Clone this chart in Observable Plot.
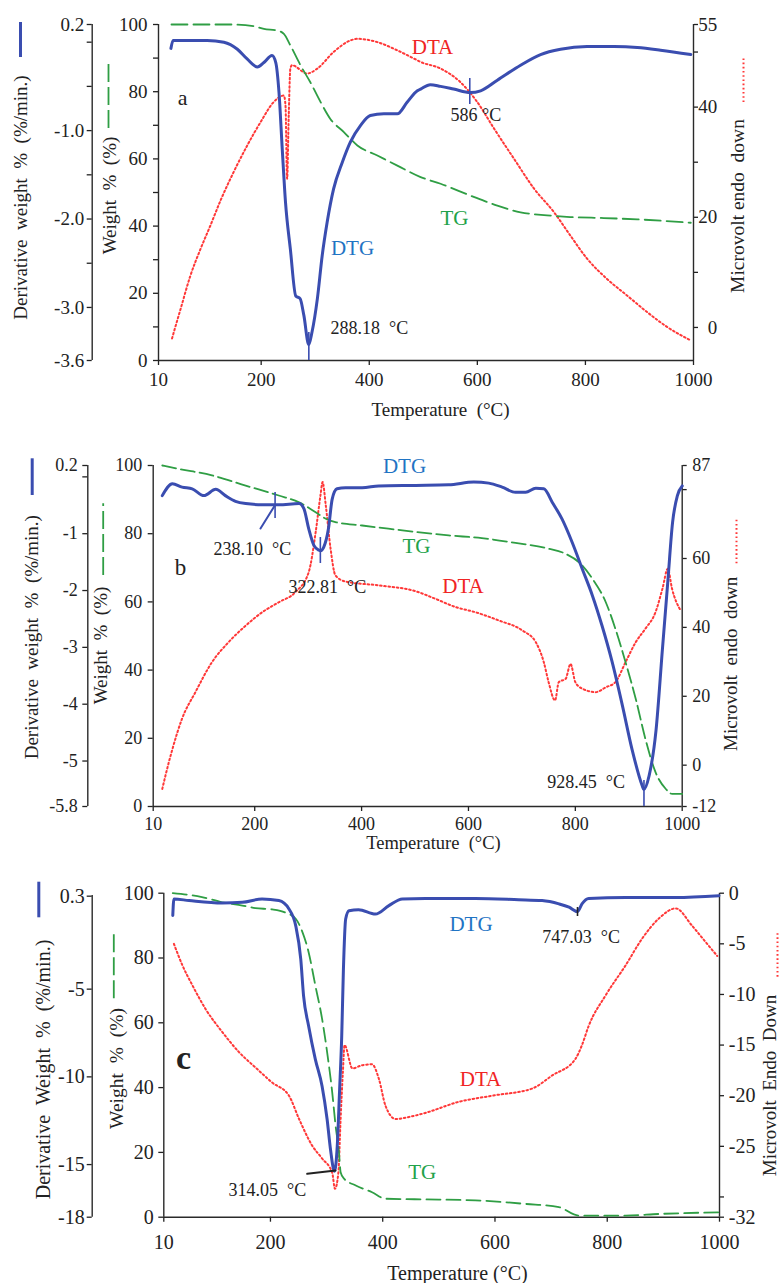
<!DOCTYPE html>
<html>
<head>
<meta charset="utf-8">
<script src="https://cdn.jsdelivr.net/npm/d3@7"></script>
<script src="https://cdn.jsdelivr.net/npm/@observablehq/plot@0.6"></script>
<style>
  html, body { margin: 0; padding: 0; background: #fff; }
  #chart { width: 781px; }
  #chart svg { display: block; }
</style>
</head>
<body>
<div id="chart"></div>
<script>
// ---------- shared ticks ----------
const xTicks = [10, 200, 400, 600, 800, 1000];
const weightTicksA = [0, 10, 20, 30, 40, 50, 60, 70, 80, 90, 100];
const weightTicks = [0, 20, 40, 60, 80, 100];

const dtgTicksA = [0.2, 0, -0.5, -1, -1.5, -2, -2.5, -3, -3.6];
const dtgLabelsA = ["0.2", "", "", "-1.0", "", "-2.0", "", "-3.0", "-3.6"];
const dtaTicksA = [55, 50, 40, 30, 20, 10, 0];
const dtaLabelsA = ["55", "", "40", "", "20", "", "0"];

const dtgTicksB = [0.2, 0, -1, -2, -3, -4, -5, -5.8];
const dtgLabelsB = ["0.2", "", "-1", "-2", "-3", "-4", "-5", "-5.8"];
const dtaTicksB = [87, 80, 60, 40, 20, 0, -12];
const dtaLabelsB = ["87", "", "60", "40", "20", "0", "-12"];

const dtgTicksC = [0.3, -5, -10, -15, -18];
const dtgLabelsC = ["0.3", "-5", "-10", "-15", "-18"];
const dtaTicksC = [0, -5, -10, -15, -20, -25, -30, -32];
const dtaLabelsC = ["0", "-5", "-10", "-15", "-20", "-25", "", "-32"];

// ---------- panel a ----------
const aDtgT = [33, 37, 57, 100, 131, 156, 174, 193, 205, 220, 227, 233, 239, 245, 254, 264, 272, 279, 288, 294, 304, 313, 322, 334, 350, 365, 384, 402, 427, 452, 470, 489, 495, 513, 532, 556, 587, 606, 637, 680, 717, 754, 803, 853, 896, 939, 995];
const aDtgV = [-0.07, 0.02, 0.02, 0.02, 0.0, -0.08, -0.19, -0.28, -0.23, -0.15, -0.23, -0.57, -1.21, -1.81, -2.34, -2.87, -2.90, -3.09, -3.42, -3.28, -2.90, -2.41, -2.04, -1.66, -1.36, -1.13, -0.94, -0.83, -0.81, -0.81, -0.68, -0.55, -0.53, -0.48, -0.50, -0.53, -0.57, -0.55, -0.43, -0.26, -0.14, -0.08, -0.05, -0.05, -0.06, -0.09, -0.14];
const aTgT = [34, 146, 186, 205, 230, 242, 254, 273, 291, 310, 328, 353, 378, 415, 452, 495, 532, 587, 637, 680, 729, 772, 834, 896, 995];
const aTgV = [100, 100, 99.5, 98.7, 98.2, 97.2, 93.8, 87.8, 82.8, 76.9, 71.9, 68.0, 64.0, 61.0, 58.0, 54.6, 52.6, 49.1, 46.1, 44.1, 43.2, 42.7, 42.4, 42.0, 41.0];
const aDtaT = [35, 51, 69, 88, 106, 125, 149, 174, 199, 223, 242, 245, 248, 251, 254, 257, 285, 304, 334, 365, 378, 415, 452, 483, 495, 532, 569, 600, 631, 668, 705, 742, 772, 803, 840, 877, 914, 951, 995];
const aDtaV = [-2.0, 3.4, 9.4, 14.3, 18.5, 23.1, 28.2, 33.0, 37.3, 40.9, 42.1, 40.3, 27.0, 38.5, 47.0, 47.6, 46.1, 47.0, 50.0, 52.1, 52.4, 51.8, 50.3, 48.8, 48.2, 47.0, 44.5, 40.9, 36.1, 30.6, 25.2, 20.9, 16.7, 12.5, 8.8, 5.8, 2.8, 0.1, -2.35];

// ---------- panel b ----------
const bDtgT = [27, 46, 64, 83, 105, 127, 145, 164, 183, 214, 245, 283, 292, 301, 311, 320, 323, 329, 338, 345, 354, 370, 401, 432, 501, 563, 610, 638, 663, 688, 707, 726, 741, 757, 775, 794, 813, 832, 850, 869, 888, 906, 925, 928, 938, 951, 963, 973, 982, 991, 1000];
const bDtgV = [-0.33, -0.12, -0.18, -0.21, -0.33, -0.22, -0.33, -0.43, -0.47, -0.49, -0.49, -0.47, -0.56, -0.91, -1.21, -1.29, -1.30, -1.24, -0.91, -0.39, -0.21, -0.19, -0.19, -0.16, -0.15, -0.14, -0.09, -0.11, -0.18, -0.27, -0.27, -0.20, -0.21, -0.45, -0.74, -1.15, -1.62, -2.09, -2.62, -3.26, -4.02, -4.79, -5.43, -5.50, -5.26, -4.46, -3.03, -1.85, -0.80, -0.33, -0.16];
const bTgT = [27, 58, 120, 183, 245, 283, 314, 333, 351, 401, 464, 501, 563, 625, 688, 750, 782, 807, 832, 857, 875, 894, 913, 931, 950, 969, 981, 1000];
const bTgV = [100, 99.0, 97.1, 94.1, 91.2, 89.2, 86.3, 84.4, 83.4, 82.4, 81.2, 80.5, 79.5, 78.7, 77.3, 75.6, 74.1, 71.6, 66.8, 59.9, 52.1, 42.3, 31.6, 19.9, 10.1, 5.2, 3.7, 3.7];
const bDtaT = [27, 33, 46, 64, 89, 120, 151, 183, 214, 245, 276, 301, 314, 323, 327, 333, 342, 351, 370, 432, 501, 538, 576, 613, 657, 701, 726, 741, 750, 762, 769, 782, 791, 800, 813, 838, 857, 875, 894, 913, 931, 950, 963, 973, 981, 997];
const bDtaV = [-6.9, -3.0, 4.7, 13.5, 21.2, 29.9, 35.7, 40.5, 44.4, 47.3, 50.2, 56.0, 67.6, 78.3, 82.2, 75.4, 62.8, 55.1, 53.3, 52.2, 50.5, 48.3, 45.9, 44.4, 42.0, 39.1, 35.7, 29.9, 24.1, 18.8, 24.1, 25.1, 29.4, 24.1, 22.2, 21.2, 22.6, 24.1, 29.9, 35.7, 39.6, 44.4, 51.2, 57.0, 51.2, 44.9];

// ---------- panel c ----------
const cDtgT = [26, 28, 55, 114, 150, 185, 215, 233, 245, 254, 259, 268, 280, 292, 301, 307, 314, 319, 323, 327, 330, 334, 340, 357, 387, 411, 435, 476, 565, 642, 684, 714, 732, 747, 755, 767, 833, 922, 999];
const cDtgV = [-0.8, 0.14, 0.05, -0.09, -0.05, 0.14, 0.05, -0.43, -1.38, -3.29, -5.38, -7.1, -9.0, -10.53, -12.43, -14.14, -15.38, -13.95, -10.9, -7.65, -3.86, -1.0, -0.53, -0.47, -0.72, -0.24, 0.14, 0.17, 0.17, 0.1, 0.05, -0.14, -0.33, -0.58, -0.14, 0.17, 0.23, 0.23, 0.33];
const cTgT = [26, 78, 114, 150, 173, 203, 227, 245, 257, 268, 280, 292, 301, 310, 316, 322, 325, 331, 352, 381, 405, 476, 565, 654, 714, 749, 833, 892, 999];
const cTgV = [100, 98.8, 97.2, 96.2, 95.4, 95.0, 94.0, 92.1, 88.0, 81.8, 71.5, 61.2, 50.9, 38.6, 28.3, 20.1, 13.9, 11.9, 9.8, 7.7, 5.7, 5.5, 5.2, 4.1, 3.1, 0.5, 0.5, 1.0, 1.5];
const cDtaT = [28, 43, 61, 84, 114, 144, 173, 203, 233, 251, 274, 292, 310, 315, 321, 325, 329, 332, 346, 363, 381, 393, 405, 423, 447, 476, 536, 595, 666, 702, 743, 755, 767, 797, 833, 862, 892, 922, 951, 975, 996];
const cDtaV = [-5.0, -7.1, -9.1, -11.4, -13.7, -15.7, -17.2, -18.7, -20.0, -22.3, -24.9, -26.2, -27.6, -29.2, -27.6, -22.3, -17.7, -15.0, -17.3, -17.0, -16.9, -18.3, -21.0, -22.3, -22.1, -21.7, -20.6, -20.0, -19.3, -18.0, -16.4, -15.0, -13.1, -10.1, -7.1, -4.5, -2.5, -1.5, -3.2, -4.8, -6.2];

// ---------- styling ----------
const FONT = "'Liberation Serif','Times New Roman',Times,serif";
const AX = "#2a2a2a";
const BLUE = "#3a4db0", GREEN = "#2f9e44", RED = "#ff3838";
const BLUE_T = "#1f74c4", GREEN_T = "#22a24a", RED_T = "#f02424";
const NBSP = "\u00a0";
const DOTS = "1.6,2.6";

function makePanel(c) {
  const H = c.bottom - c.top;
  const W = py => (c.bottom - py) / H * 100;
  const T = px => 10 + (px - c.left) / (c.right - c.left) * 990;
  const toW = (v, dom) => (v - dom[0]) / (dom[1] - dom[0]) * 100;
  const rows = (ts, vs, dom) => ts.map((t, i) => ({t, w: dom ? toW(vs[i], dom) : vs[i]}));
  const lookup = (vals, labels, dom) => {
    const m = new Map(vals.map((v, i) => [toW(v, dom).toFixed(3), labels[i]]));
    return d => m.get((+d).toFixed(3)) ?? "";
  };
  const at = (s, x, y, o = {}) => Plot.text([s], {
    frameAnchor: "top-left", dx: x - c.left, dy: y - c.top,
    textAnchor: "middle", lineAnchor: "middle", fontSize: 21, fill: "#222", ...o
  });
  const swStyle = {
    blue: {stroke: BLUE, strokeWidth: 3},
    green: {stroke: GREEN, strokeWidth: 1.8, strokeDasharray: "18,5"},
    red: {stroke: RED, strokeWidth: 2, strokeDasharray: DOTS}
  };
  const outerDx = c.outerX - c.left;

  const marks = [
    // axis lines
    Plot.ruleX([10], {stroke: AX, strokeWidth: 1.4}),
    Plot.ruleX([1000], {stroke: AX, strokeWidth: 1.4}),
    Plot.ruleY([0], {stroke: AX, strokeWidth: 1.4}),
    Plot.ruleX([10], {y1: 0, y2: W(c.outerTopPx), dx: outerDx, stroke: AX, strokeWidth: 1.4}),
    // x axis
    Plot.axisX(xTicks, {anchor: "bottom", tickSize: 5, tickPadding: c.xPad, tickFormat: d => String(d),
      label: null, fontSize: c.tick, color: "#222", strokeWidth: 1.3}),
    // inner weight axis
    Plot.axisY(c.inner, {anchor: "left", tickSize: 5, tickPadding: c.innerPad,
      tickFormat: d => (d % 20 === 0 ? String(d) : ""), label: null, fontSize: c.tick, color: "#222", strokeWidth: 1.3}),
    // outer derivative axis
    Plot.axisY(c.dtgTicks.map(v => toW(v, c.dtgDom)), {anchor: "left", dx: outerDx, tickSize: 5,
      tickPadding: c.outerPad, tickFormat: lookup(c.dtgTicks, c.dtgLabels, c.dtgDom),
      label: null, fontSize: c.tick, color: "#222", strokeWidth: 1.3}),
    // right microvolt axis
    Plot.axisY(c.dtaTicks.map(v => toW(v, c.dtaDom)), {anchor: "right", tickSize: 4,
      tickFormat: () => "", label: null, color: "#222", strokeWidth: 1.3}),
    Plot.text(c.dtaTicks.map((v, i) => ({w: toW(v, c.dtaDom), s: c.dtaLabels[i]})), {
      x: 1000, y: "w", text: "s", dx: c.rLabelX - c.right, textAnchor: c.rAnchor,
      lineAnchor: "middle", fontSize: c.tick, fill: "#222"}),
    // series
    Plot.line(rows(c.dta[0], c.dta[1], c.dtaDom), {x: "t", y: "w", stroke: RED, strokeWidth: 2,
      strokeDasharray: DOTS, curve: "monotone-x"}),
    Plot.line(rows(c.tg[0], c.tg[1]), {x: "t", y: "w", stroke: GREEN, strokeWidth: 1.8,
      strokeDasharray: c.tgDash, curve: "monotone-x"}),
    Plot.line(rows(c.dtg[0], c.dtg[1], c.dtgDom), {x: "t", y: "w", stroke: BLUE, strokeWidth: 3,
      strokeLinejoin: "round", curve: "monotone-x"})
  ];

  for (const [t, p1, p2, col] of c.rules)
    marks.push(Plot.ruleX([t], {y1: W(p2), y2: W(p1), stroke: col, strokeWidth: 1.6}));
  for (const [x1, y1, x2, y2, col] of c.segs)
    marks.push(Plot.line([{t: T(x1), w: W(y1)}, {t: T(x2), w: W(y2)}], {x: "t", y: "w", stroke: col, strokeWidth: 2}));
  for (const [x, y1, y2, kind] of c.swatches)
    marks.push(Plot.ruleX([10], {y1: W(y2), y2: W(y1), dx: x - c.left, ...swStyle[kind]}));
  for (const [s, x, y, size] of c.titles)
    marks.push(at(s, x, y, {rotate: -90, fontSize: size}));
  for (const [s, x, y, o] of c.notes)
    marks.push(at(s, x, y, o));

  return Plot.plot({
    width: 781, height: c.height,
    marginTop: c.top - c.offset, marginBottom: c.offset + c.height - c.bottom,
    marginLeft: c.left, marginRight: 781 - c.right,
    x: {domain: [10, 1000], axis: null},
    y: {domain: [0, 100], axis: null},
    style: {fontFamily: FONT, fontSize: "18px", color: "#222", background: "#fff"},
    marks
  });
}

const panels = [
  {
    offset: 0, height: 425, top: 24, bottom: 360, left: 158, right: 693,
    tick: 19, xPad: 6.5, inner: weightTicksA, innerPad: 6,
    outerX: 91.7, outerTopPx: 24, dtgDom: [-3.6, 0.2], dtgTicks: dtgTicksA, dtgLabels: dtgLabelsA, outerPad: 3,
    dtaDom: [-6, 55], dtaTicks: dtaTicksA, dtaLabels: dtaLabelsA, rLabelX: 716.7, rAnchor: "end",
    dtg: [aDtgT, aDtgV], tg: [aTgT, aTgV], dta: [aDtaT, aDtaV], tgDash: "16,6",
    rules: [[586, 78, 104, BLUE], [288.18, 332, 360, BLUE]],
    segs: [],
    swatches: [[20, 22, 57, "blue"], [108, 60, 128, "green"], [743, 58, 102, "red"]],
    titles: [
      ["Derivative" + NBSP + " weight" + NBSP + " %" + NBSP + " (%/min.)", 20, 197, 19],
      ["Weight" + NBSP + " %" + NBSP + " (%)", 109, 195, 19],
      ["Microvolt endo" + NBSP + " down", 737.5, 205.5, 19.5]
    ],
    notes: [
      ["Temperature" + NBSP + " (°C)", 440, 409, {fontSize: 19}],
      ["a", 182, 97, {fontSize: 22}],
      ["DTA", 432, 47, {fill: RED_T}],
      ["TG", 454, 218, {fill: GREEN_T}],
      ["DTG", 352, 248, {fill: BLUE_T}],
      ["288.18" + NBSP + " °C", 330, 328, {textAnchor: "start", fontSize: 18}],
      ["586 °C", 450, 115, {textAnchor: "start", fontSize: 18}]
    ]
  },
  {
    offset: 425, height: 433, top: 465, bottom: 806, left: 152.7, right: 681.7,
    tick: 18, xPad: 6, inner: weightTicks, innerPad: 6,
    outerX: 87.3, outerTopPx: 465, dtgDom: [-5.8, 0.2], dtgTicks: dtgTicksB, dtgLabels: dtgLabelsB, outerPad: 5,
    dtaDom: [-12, 87], dtaTicks: dtaTicksB, dtaLabels: dtaLabelsB, rLabelX: 691.7, rAnchor: "start",
    dtg: [bDtgT, bDtgV], tg: [bTgT, bTgV], dta: [bDtaT, bDtaV], tgDash: "14,5",
    rules: [[238.1, 492, 518, BLUE], [322.81, 537, 563, BLUE], [928.45, 780, 806, BLUE]],
    segs: [[260, 528, 274.3, 505, BLUE]],
    swatches: [[31.7, 458.3, 495, "blue"], [102.7, 503.3, 575, "green"], [736, 518.3, 563.3, "red"]],
    titles: [
      ["Derivative" + NBSP + " weight" + NBSP + " %" + NBSP + " (%/min.)", 31.7, 636.7, 19],
      ["Weight" + NBSP + " %" + NBSP + " (%)", 100, 645, 19],
      ["Microvolt" + NBSP + " endo" + NBSP + " down", 730.8, 663.3, 19]
    ],
    notes: [
      ["Temperature" + NBSP + " (°C)", 433, 843, {fontSize: 18.5}],
      ["b", 180, 567, {fontSize: 23}],
      ["DTG", 404, 466, {fill: BLUE_T}],
      ["TG", 416, 546, {fill: GREEN_T}],
      ["DTA", 462.5, 585.5, {fill: RED_T}],
      ["238.10" + NBSP + " °C", 213, 548.5, {textAnchor: "start", fontSize: 18}],
      ["322.81" + NBSP + " °C", 288, 587, {textAnchor: "start", fontSize: 18}],
      ["928.45" + NBSP + " °C", 546.7, 782, {textAnchor: "start", fontSize: 18}]
    ]
  },
  {
    offset: 858, height: 425, top: 892.7, bottom: 1216.7, left: 163.3, right: 719,
    tick: 20, xPad: 13, inner: weightTicks, innerPad: 5,
    outerX: 91.7, outerTopPx: 895, dtgDom: [-18, 0.47], dtgTicks: dtgTicksC, dtgLabels: dtgLabelsC, outerPad: 2.5,
    dtaDom: [-32, 0], dtaTicks: dtaTicksC, dtaLabels: dtaLabelsC, rLabelX: 728.3, rAnchor: "start",
    dtg: [cDtgT, cDtgV], tg: [cTgT, cTgV], dta: [cDtaT, cDtaV], tgDash: "14,6",
    rules: [[747.03, 907, 916, "#222"]],
    segs: [[306.7, 1173.3, 335, 1170, "#222"]],
    swatches: [[38.3, 881.7, 917.3, "blue"], [113.3, 930, 998.3, "green"], [777, 933.3, 976.7, "red"]],
    titles: [
      ["Derivative" + NBSP + " Weight" + NBSP + " %" + NBSP + " (%/min.)", 43, 1069, 20],
      ["Weight" + NBSP + " %" + NBSP + " (%)", 115.8, 1068, 19.5],
      ["Microvolt" + NBSP + " Endo" + NBSP + " Down", 769, 1085, 19]
    ],
    notes: [
      ["Temperature (°C)", 457, 1273, {fontSize: 20}],
      ["c", 183, 1058, {fontSize: 34, fontWeight: "bold"}],
      ["DTG", 470.5, 924, {fill: BLUE_T}],
      ["747.03" + NBSP + " °C", 541.7, 937, {textAnchor: "start", fontSize: 18}],
      ["DTA", 480, 1079, {fill: RED_T}],
      ["TG", 421.7, 1171.5, {fill: GREEN_T}],
      ["314.05" + NBSP + " °C", 228, 1190, {textAnchor: "start", fontSize: 18}]
    ]
  }
];

const root = document.getElementById("chart");
for (const p of panels) root.appendChild(makePanel(p));
</script>
</body>
</html>
